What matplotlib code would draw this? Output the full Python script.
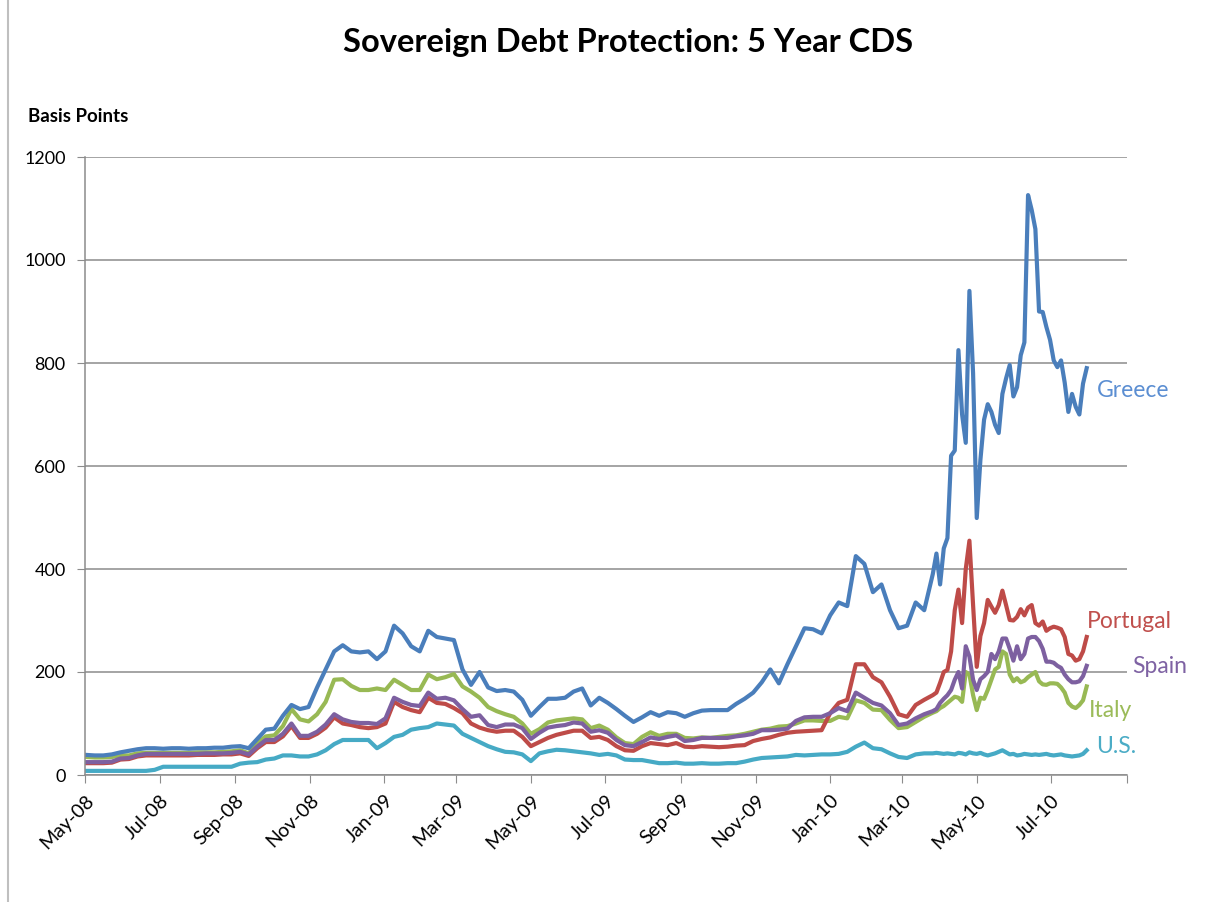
import pandas as pd
import matplotlib
matplotlib.use("Agg")
import matplotlib.pyplot as plt
from matplotlib.lines import Line2D

plt.rcParams['font.family'] = ['Lato', 'DejaVu Sans']

# weekly closes to end of March 2010, then every third day through July 2010
weekly_dates = pd.date_range('2008-05-02', '2010-03-26', freq='W-FRI')
recent_dates = pd.date_range('2010-03-29', '2010-07-30', freq='3D')
dates = weekly_dates.append(recent_dates)

greece = [
    39, 38, 38, 40, 44, 47, 50, 52, 52, 51, 52, 52, 51, 52, 52, 53, 53, 55, 56, 52,
    70, 88, 90, 115, 136, 128, 132, 170, 205, 240, 252, 240, 238, 240, 225, 240, 290, 275, 250, 240,
    280, 268, 265, 262, 205, 175, 200, 170, 163, 165, 162, 146, 115, 132, 148, 148, 150, 162, 168, 135,
    150, 140, 128, 115, 103, 112, 122, 115, 122, 120, 113, 120, 125, 126, 126, 126, 138, 148, 160, 180,
    205, 178, 215, 250, 285, 283, 275, 310, 335, 328, 425, 410, 355, 370, 320, 285, 290, 335, 320, 390,
    # spring/summer 2010
    430, 370, 440, 460, 620, 630, 825, 700, 645, 940, 780, 499, 612, 690, 720, 705, 680, 664, 740, 770,
    796, 735, 753, 815, 840, 1126, 1097, 1060, 900, 899, 870, 845, 805, 792, 805, 762, 705, 740, 715, 700,
    760, 790,
]

portugal = [
    23, 23, 23, 24, 30, 31, 36, 38, 38, 38, 38, 38, 38, 39, 39, 39, 40, 40, 42, 37,
    52, 64, 64, 75, 95, 72, 72, 80, 92, 112, 100, 97, 93, 91, 93, 100, 142, 132, 126, 122,
    150, 140, 138, 130, 120, 100, 92, 87, 84, 86, 86, 74, 56, 64, 72, 78, 82, 86, 86, 72,
    74, 68, 56, 48, 47, 56, 62, 60, 58, 62, 55, 54, 56, 55, 54, 55, 57, 58, 66, 70,
    73, 78, 82, 84, 85, 86, 87, 120, 140, 146, 215, 215, 190, 180, 152, 118, 113, 136, 146, 155,
    # spring/summer 2010
    160, 179, 200, 204, 240, 320, 360, 295, 400, 455, 330, 210, 270, 295, 340, 327, 315, 330, 358, 330,
    301, 300, 307, 322, 310, 325, 330, 295, 290, 298, 280, 285, 288, 286, 283, 268, 235, 232, 222, 225,
    240, 268,
]

spain = [
    25, 25, 25, 26, 32, 33, 38, 41, 41, 41, 41, 41, 41, 41, 42, 42, 42, 43, 45, 40,
    55, 68, 68, 80, 100, 76, 76, 84, 98, 118, 108, 103, 101, 101, 99, 110, 150, 142, 136, 134,
    160, 148, 150, 145, 128, 113, 116, 97, 93, 98, 98, 91, 70, 82, 92, 95, 97, 102, 100, 84,
    87, 82, 68, 58, 56, 64, 73, 70, 74, 77, 66, 68, 72, 72, 72, 72, 75, 77, 80, 87,
    87, 88, 90, 105, 112, 113, 113, 120, 130, 124, 160, 150, 140, 135, 120, 97, 100, 110, 118, 124,
    # spring/summer 2010
    128, 140, 148, 155, 165, 185, 200, 168, 250, 230, 185, 165, 186, 192, 200, 235, 225, 240, 265, 265,
    245, 222, 250, 225, 235, 265, 268, 268, 260, 245, 220, 220, 218, 212, 208, 195, 186, 180, 180, 182,
    192, 212,
]

italy = [
    35, 34, 34, 35, 38, 38, 42, 43, 43, 43, 43, 43, 43, 44, 44, 44, 45, 46, 48, 42,
    62, 75, 77, 95, 128, 108, 104, 118, 142, 185, 186, 173, 165, 165, 168, 165, 185, 175, 165, 165,
    195, 186, 190, 196, 172, 162, 150, 132, 124, 118, 113, 100, 80, 89, 102, 106, 108, 110, 108, 91,
    96, 88, 73, 62, 60, 74, 83, 76, 80, 80, 72, 71, 73, 72, 74, 76, 77, 80, 84, 88,
    90, 94, 95, 100, 106, 106, 105, 105, 113, 110, 145, 140, 127, 126, 107, 91, 93, 103, 113, 121,
    # spring/summer 2010
    124, 130, 134, 140, 146, 152, 150, 142, 200, 195, 155, 126, 150, 148, 165, 185, 205, 210, 240, 235,
    195, 182, 188, 180, 183, 190, 195, 200, 182, 176, 175, 178, 178, 177, 170, 160, 140, 133, 130, 136,
    145, 172,
]

us = [
    8, 8, 8, 8, 8, 8, 8, 8, 10, 16, 16, 16, 16, 16, 16, 16, 16, 16, 22, 24,
    25, 30, 32, 38, 38, 36, 36, 40, 48, 60, 68, 68, 68, 68, 52, 62, 74, 78, 88, 91,
    93, 100, 98, 96, 80, 72, 64, 56, 50, 45, 44, 40, 27, 42, 46, 49, 48, 46, 44, 42,
    39, 41, 38, 30, 29, 29, 26, 23, 23, 24, 22, 22, 23, 22, 22, 23, 23, 26, 30, 33,
    34, 35, 36, 39, 38, 39, 40, 40, 41, 45, 55, 63, 52, 50, 42, 35, 33, 40, 42, 42,
    # spring/summer 2010
    43, 42, 41, 42, 41, 40, 43, 42, 40, 44, 42, 41, 43, 40, 38, 40, 42, 45, 48, 44,
    40, 41, 38, 39, 41, 40, 39, 40, 39, 40, 41, 39, 38, 39, 40, 38, 37, 36, 37, 38,
    41, 48,
]

names = ['Greece', 'Portugal', 'Spain', 'Italy', 'U.S.']
colors = ['#4A7EBB', '#BE4B48', '#7D60A0', '#98B954', '#46AAC5']
label_colors = ['#5B8ED2', '#C0504D', '#7E62A3', '#9BBB59', '#4BACC6']
# label anchor: (days after last point, level in bp)
label_pos = [(8, 746), (0, 299), (37, 210), (2, 126), (8, 56)]

fig = plt.figure(figsize=(12.32, 9.02), dpi=100)
ax = fig.add_axes([85 / 1232, 1 - 775 / 902, (1127 - 85) / 1232, (775 - 157) / 902])

grid_c = '#8C8C8C'
ax.set_ylim(0, 1200)
ax.set_yticks(range(0, 1201, 200))
ax.yaxis.grid(True, color=grid_c, linewidth=1.1)
ax.set_axisbelow(True)

series = [greece, portugal, spain, italy, us]
draw_order = [3, 1, 2, 0, 4]
for i in draw_order:
    ax.plot(dates, series[i], color=colors[i], linewidth=3.0, solid_joinstyle='round')

last = dates[-1]
for i, name in enumerate(names):
    dx, yv = label_pos[i]
    ax.text(last + pd.Timedelta(days=dx), yv, name, color=label_colors[i],
            fontsize=16.5, va='center', ha='left', clip_on=False)

ax.set_xlim(pd.Timestamp('2008-05-01'), pd.Timestamp('2010-09-01'))
ticks = pd.date_range('2008-05-01', '2010-09-01', freq='2MS')
ax.set_xticks(ticks)
ax.set_xticklabels([t.strftime('%b-%y') if t < ticks[-1] else '' for t in ticks],
                   rotation=45, ha='right', rotation_mode='anchor', fontsize=14)
ax.tick_params(axis='y', labelsize=13, length=6, color=grid_c, pad=8)
ax.tick_params(axis='x', length=6, color=grid_c, pad=6)

for side in ['top', 'right']:
    ax.spines[side].set_visible(False)
for side in ['left', 'bottom']:
    ax.spines[side].set_color(grid_c)
    ax.spines[side].set_linewidth(1.1)

fig.text(0.51, 0.953, 'Sovereign Debt Protection: 5 Year CDS', ha='center', va='center',
         fontsize=23.5, fontweight='bold')
fig.text(0.023, 0.871, 'Basis Points', ha='left', va='center', fontsize=13.5, fontweight='bold')

fig.add_artist(Line2D([0.0065, 0.0065], [0, 1], transform=fig.transFigure,
                      color='#BFBFBF', linewidth=1.5))

fig.savefig('out.png', dpi=100)
